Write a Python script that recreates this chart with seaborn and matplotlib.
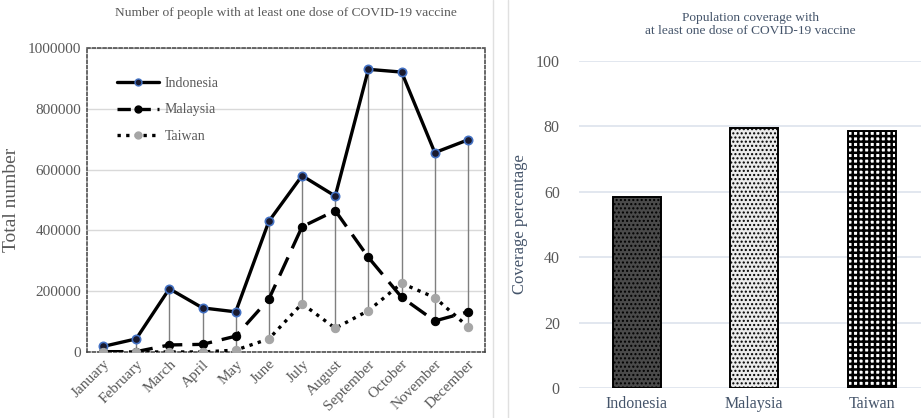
import numpy as np
import pandas as pd
import matplotlib.pyplot as plt
from matplotlib.lines import Line2D
import seaborn as sns

# Monthly number of people with at least one dose
months = ["January", "February", "March", "April", "May", "June", "July",
          "August", "September", "October", "November", "December"]
indonesia = [18000, 43000, 208000, 145000, 132000, 430000, 580000,
             513000, 930000, 921000, 656000, 698000]
malaysia = [1000, 1000, 23000, 25000, 52000, 174000, 412000,
            465000, 311000, 180000, 102000, 132000]
taiwan = [0, 0, 0, 0, 6000, 43000, 159000,
          78000, 136000, 226000, 179000, 83000]

# Population coverage (%)
countries = ["Indonesia", "Malaysia", "Taiwan"]
coverage = [58.4, 79.4, 78.5]

sns.set_theme(style="white")
plt.rcParams["font.family"] = ["Liberation Serif", "DejaVu Serif"]

fig = plt.figure(figsize=(9.21, 4.18), dpi=100)

# ---------- left chart: monthly totals ----------
ax1 = fig.add_axes([0.0945, 0.158, 0.432, 0.727])
xs = np.arange(len(months))
stack = np.array([indonesia, malaysia, taiwan])
ax1.vlines(xs, stack.min(axis=0), stack.max(axis=0), color="#7f7f7f", lw=1.0, zorder=1)

sns.lineplot(x=xs, y=indonesia, ax=ax1, color="black", lw=2.4, marker="o",
             markersize=6, markerfacecolor="#1a1a2e", markeredgecolor="#4472c4",
             markeredgewidth=1.2, label="Indonesia", zorder=3)
sns.lineplot(x=xs, y=malaysia, ax=ax1, color="black", lw=2.4, marker="o",
             markersize=6, markerfacecolor="black", markeredgecolor="black",
             label="Malaysia", zorder=3)
sns.lineplot(x=xs, y=taiwan, ax=ax1, color="black", lw=2.4, marker="o",
             markersize=6, markerfacecolor="#a6a6a6", markeredgecolor="#a6a6a6",
             label="Taiwan", zorder=3)
ax1.lines[-2].set_dashes([6, 3])
ax1.lines[-1].set_dashes([1, 1.6])

ax1.set_xlim(-0.48, 11.51)
ax1.set_ylim(0, 1000000)
ax1.set_yticks(np.arange(0, 1000001, 200000))
ax1.set_yticklabels([str(v) for v in range(0, 1000001, 200000)], color="#595959", fontsize=11)
ax1.set_xticks(xs)
ax1.set_xticklabels(months, rotation=45, ha="right", rotation_mode="anchor",
                    color="#595959", fontsize=11)
ax1.tick_params(axis="both", length=0, pad=4)
ax1.grid(axis="y", color="#d9d9d9", lw=1)
ax1.set_axisbelow(True)
for s in ax1.spines.values():
    s.set_linestyle((0, (2, 1.5)))
    s.set_color("#404040")
    s.set_linewidth(1.1)
ax1.set_ylabel("Total number", color="#595959", fontsize=14, labelpad=6)
ax1.set_title("Number of people with at least one dose of COVID-19 vaccine",
              color="#595959", fontsize=9.7, pad=23)

handles = [
    Line2D([], [], color="black", lw=2.4, marker="o", markersize=5,
           markerfacecolor="#1a1a2e", markeredgecolor="#4472c4"),
    Line2D([], [], color="black", lw=2.4, dashes=[4, 2], marker="o", markersize=5,
           markerfacecolor="black"),
    Line2D([], [], color="black", lw=2.4, dashes=[1, 1.6], marker="o", markersize=5,
           markerfacecolor="#a6a6a6", markeredgecolor="#a6a6a6"),
]
leg = ax1.legend(handles, ["Indonesia", "Malaysia", "Taiwan"], loc="upper left",
                 bbox_to_anchor=(0.045, 0.945), frameon=False, fontsize=10,
                 handlelength=3.0, labelspacing=0.95, handletextpad=0.4)
for t in leg.get_texts():
    t.set_color("#595959")

# ---------- right chart: coverage bars ----------
ax2 = fig.add_axes([0.629, 0.0718, 0.371, 0.783])
sns.barplot(x=countries, y=coverage, ax=ax2, width=0.41, edgecolor="black",
            linewidth=1.4, zorder=3)
faces = ["#4a4a4a", "#ebebeb", "white"]
hatches = ["....", "....", "+++"]
hcolors = ["#6e6e6e", "#b5b5b5", "#5a5a5a"]
hwidths = [1.0, 1.0, 1.8]
for bar, fc, h, hc, hw in zip(ax2.patches, faces, hatches, hcolors, hwidths):
    bar.set_facecolor(fc)
    bar.set_hatch(h)
    bar.set_hatch_linewidth(hw)
    try:
        bar.set_hatchcolor(hc)
    except AttributeError:
        pass
    bar.set_edgecolor("black")

ax2.set_xlim(-0.49, 2.42)
ax2.set_ylim(0, 100)
ax2.set_yticks(range(0, 101, 20))
ax2.tick_params(axis="y", labelcolor="#595959", labelsize=11.5, length=0, pad=14)
ax2.tick_params(axis="x", labelcolor="#44546a", labelsize=11.5, length=0, pad=6)
ax2.grid(axis="y", color="#dde3ec", lw=1.2)
ax2.set_axisbelow(True)
for s in ax2.spines.values():
    s.set_visible(False)
ax2.set_ylabel("Coverage percentage", color="#44546a", fontsize=12, labelpad=6)
ax2.set_title("Population coverage with\nat least one dose of COVID-19 vaccine",
              color="#44546a", fontsize=9.6, pad=19)

# chart frames
fig.add_artist(Line2D([0.535, 0.535], [0, 1], color="#e0e0e0", lw=1))
fig.add_artist(Line2D([0.552, 0.552], [0, 1], color="#e0e0e0", lw=1))

fig.savefig("out.png", dpi=100)
